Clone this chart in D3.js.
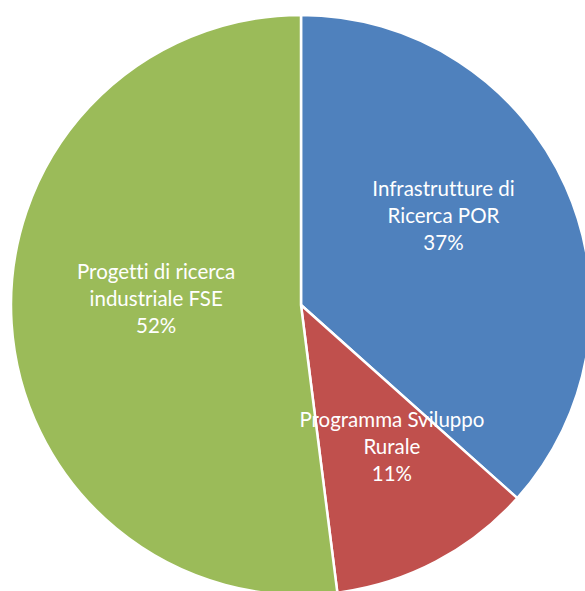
<!DOCTYPE html>
<html>
<head>
<meta charset="utf-8">
<script src="https://d3js.org/d3.v7.min.js"></script>
<style>
  body { margin: 0; background: #fff; }
  svg { display: block; }
</style>
</head>
<body>
<div id="chart"></div>
<script>
// data
const categories = ["Infrastrutture di Ricerca POR", "Programma Sviluppo Rurale", "Progetti di ricerca industriale FSE"];
const labelLines = [["Infrastrutture di", "Ricerca POR"], ["Programma Sviluppo", "Rurale"], ["Progetti di ricerca", "industriale FSE"]];
const values = [36.6, 11.4, 52.0];
const colors = ["#4F81BD", "#C0504D", "#9BBB59"];

// layout
const width = 585, height = 591;
const cx = 301, cy = 305, radius = 290;
const lineH = 27;
// best-fit label placement, like the spreadsheet did it (radius factor, angle shift in degrees)
const labelRadius = [0.58, 0.58, 0.50];
const labelShift = [-8, -5, 6];

const svg = d3.select("#chart").append("svg")
    .attr("width", width)
    .attr("height", height);

const g = svg.append("g").attr("transform", `translate(${cx},${cy})`);

const pie = d3.pie().sort(null).value(d => d);
const arcs = pie(values);
const total = d3.sum(values);

const arc = d3.arc().innerRadius(0).outerRadius(radius);

g.selectAll("path.slice")
    .data(arcs)
  .enter().append("path")
    .attr("class", "slice")
    .attr("d", arc)
    .attr("fill", (d, i) => colors[i])
    .attr("stroke", "#fff")
    .attr("stroke-width", 2.5)
    .attr("stroke-linejoin", "round");

function labelPoint(d, i) {
    const a = (d.startAngle + d.endAngle) / 2 + labelShift[i] * Math.PI / 180;
    const r = radius * labelRadius[i];
    return [Math.sin(a) * r, -Math.cos(a) * r];
}

// labels: category lines + percentage
const labels = g.selectAll("text.lbl")
    .data(arcs)
  .enter().append("text")
    .attr("class", "lbl")
    .attr("transform", (d, i) => `translate(${labelPoint(d, i)})`)
    .attr("text-anchor", "middle")
    .style("font-family", "Lato, 'Open Sans', sans-serif")
    .style("font-size", "20.5px")
    .style("font-variant-ligatures", "none")
    .style("fill", "#fff");

labels.each(function (d, i) {
    const lines = labelLines[i].concat([Math.round(d.value / total * 100) + "%"]);
    const t = d3.select(this);
    lines.forEach((s, k) => {
        t.append("tspan")
            .attr("x", 0)
            .attr("y", (k - (lines.length - 1) / 2) * lineH)
            .attr("dy", "0.35em")
            .text(s);
    });
});
</script>
</body>
</html>
